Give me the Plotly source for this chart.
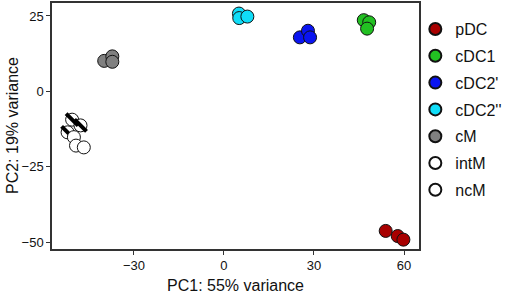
import plotly.graph_objects as go

groups = ["pDC", "cDC1", "cDC2'", "cDC2''", "cM", "intM", "ncM"]
colors = ["#A80000", "#22C022", "#0A14F0", "#10DDF8", "#808080", "#FFFFFF", "#FFFFFF"]

pc1 = {
    "pDC": [53.9, 57.9, 59.8],
    "cDC1": [46.6, 48.4, 47.7],
    "cDC2'": [25.3, 28.0, 28.7],
    "cDC2''": [5.0, 5.1, 7.8],
    "cM": [-39.9, -37.2, -37.2],
    "intM": [-50.6, -47.8, -52.1],
    "ncM": [-50.0, -49.3, -46.7],
}
pc2 = {
    "pDC": [-46.3, -48.0, -49.2],
    "cDC1": [23.6, 22.9, 20.8],
    "cDC2'": [17.9, 20.1, 17.9],
    "cDC2''": [25.8, 24.3, 24.8],
    "cM": [10.1, 11.6, 9.8],
    "intM": [-9.4, -11.3, -13.6],
    "ncM": [-15.2, -18.0, -18.6],
}

x_ticks = [-30, 0, 30, 60]
y_ticks = [-50, -25, 0, 25]

fig = go.Figure()
for g, c in zip(groups, colors):
    fig.add_trace(go.Scatter(
        x=pc1[g], y=pc2[g], mode="markers", name=g, legendgroup=g,
        marker=dict(symbol="circle", size=13, color=c,
                    line=dict(color="#111111", width=1)),
    ))
    if g == "intM":
        fig.add_trace(go.Scatter(
            x=pc1[g], y=pc2[g], mode="markers", name=g, legendgroup=g,
            showlegend=False,
            marker=dict(symbol="line-nw", size=12,
                        line=dict(color="#000000", width=4)),
        ))

axis_common = dict(
    showgrid=False, zeroline=False, showline=True, linecolor="#333333",
    linewidth=1.5, mirror=True, ticks="outside", ticklen=4, tickwidth=1,
    tickcolor="#333333", automargin=False,
    tickfont=dict(family="Liberation Sans, Arial", size=13, color="#111111"),
)

fig.update_layout(
    width=517, height=297,
    margin=dict(l=52, r=98, t=3, b=48),
    plot_bgcolor="white", paper_bgcolor="white",
    xaxis=dict(range=[-57.3, 65], tickvals=x_ticks, **axis_common,
               title=dict(text="PC1: 55% variance", standoff=7,
                          font=dict(family="Liberation Sans, Arial", size=16, color="#111111"))),
    yaxis=dict(range=[-52.3, 29.3], tickvals=y_ticks, **axis_common),
    legend=dict(x=0.99, y=0.963, xanchor="left", yanchor="top",
                font=dict(family="Liberation Sans, Arial", size=16, color="#111111"),
                bgcolor="rgba(0,0,0,0)", itemsizing="constant", tracegroupgap=3),
    showlegend=True,
    annotations=[dict(text="PC2: 19% variance", textangle=-90, showarrow=False,
                      xref="paper", yref="paper", x=0, y=0.5,
                      xanchor="center", yanchor="middle", xshift=-40,
                      font=dict(family="Liberation Sans, Arial", size=16, color="#111111"))],
)

fig.write_html("out.html", post_script="document.body.style.margin='0';",
               config={"displayModeBar": False})
